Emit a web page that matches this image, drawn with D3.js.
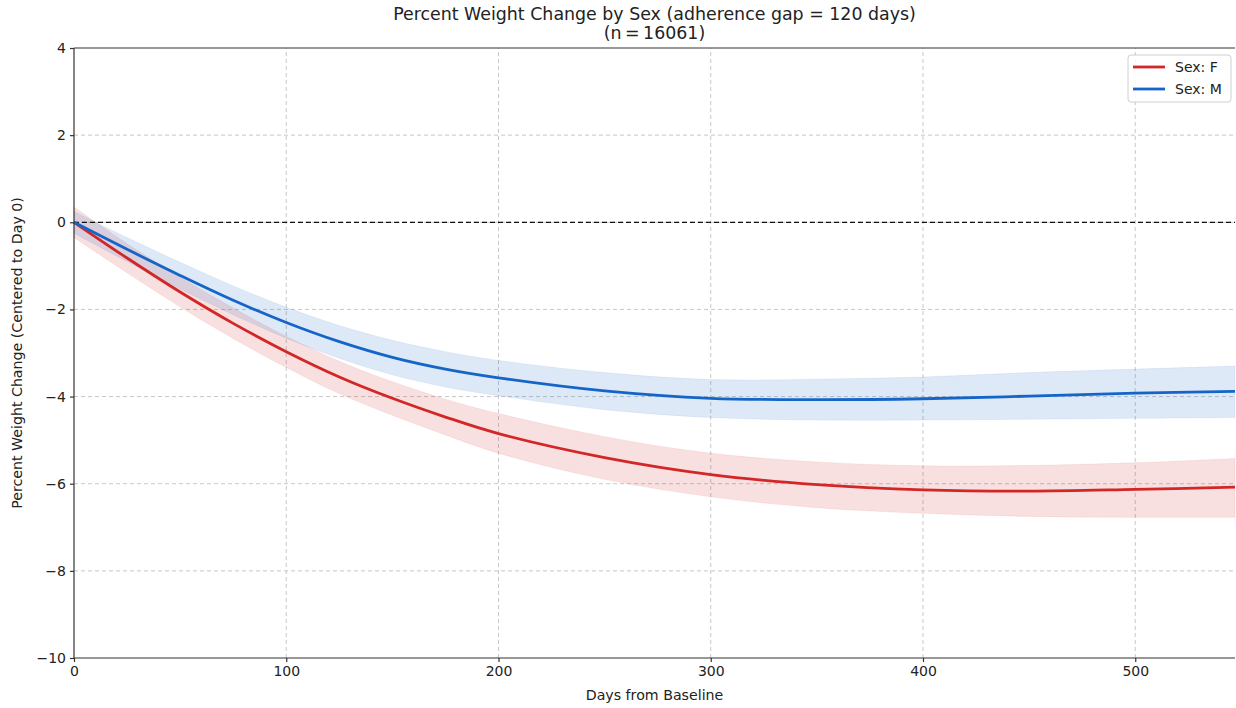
<!DOCTYPE html>
<html>
<head>
<meta charset="utf-8">
<script src="https://cdn.jsdelivr.net/npm/d3@7"></script>
<style>
  body { margin: 0; background: #fff; }
  svg { font-family: "DejaVu Sans", sans-serif; }
  .axis path, .axis line { stroke: #333; stroke-width: 1.2; }
  .grid line { stroke: #c8c8c8; stroke-dasharray: 4,3; stroke-width: 1; }
</style>
</head>
<body>
<script>
// days from baseline
var days = [0, 25, 50, 75, 100, 125, 150, 175, 200, 250, 300, 350, 400, 450, 500, 547];

// Sex: F
var fMean  = [0, -0.82, -1.60, -2.32, -2.97, -3.55, -4.04, -4.47, -4.85, -5.40, -5.79, -6.02, -6.14, -6.17, -6.13, -6.08];
var fLower = [-0.35, -1.16, -1.94, -2.67, -3.33, -3.93, -4.43, -4.88, -5.30, -5.90, -6.30, -6.55, -6.68, -6.75, -6.77, -6.77];
var fUpper = [0.35, -0.49, -1.26, -1.97, -2.62, -3.19, -3.66, -4.06, -4.39, -4.92, -5.30, -5.50, -5.59, -5.58, -5.52, -5.42];

// Sex: M
var mMean  = [0, -0.62, -1.22, -1.79, -2.30, -2.74, -3.10, -3.37, -3.57, -3.87, -4.04, -4.07, -4.05, -3.99, -3.92, -3.88];
var mLower = [-0.25, -0.90, -1.53, -2.12, -2.66, -3.12, -3.50, -3.78, -3.98, -4.30, -4.48, -4.54, -4.54, -4.52, -4.50, -4.48];
var mUpper = [0.25, -0.35, -0.92, -1.46, -1.95, -2.37, -2.71, -2.97, -3.17, -3.45, -3.61, -3.60, -3.55, -3.45, -3.37, -3.30];

var xTicks = [0, 100, 200, 300, 400, 500];
var yTicks = [-10, -8, -6, -4, -2, 0, 2, 4];

var seriesNames = ["Sex: F", "Sex: M"];
var seriesColors = ["#d32626", "#1565c8"];

//Width and height
var w = 1236;
var h = 708;
var margin = {left: 74, right: 1, top: 48, bottom: 50};

var svg = d3.select("body")
            .append("svg")
            .attr("width", w)
            .attr("height", h);

//scales
var xScale = d3.scaleLinear()
            .domain([0, 547])
            .range([margin.left, w - margin.right]);

var yScale = d3.scaleLinear()
            .domain([-10, 4])
            .range([h - margin.bottom, margin.top]);

//grid lines
svg.append("g")
    .attr("class", "grid")
    .selectAll("line")
    .data(xTicks.slice(1))
    .enter().append("line")
    .attr("x1", function(d){ return xScale(d); })
    .attr("x2", function(d){ return xScale(d); })
    .attr("y1", yScale(-10))
    .attr("y2", yScale(4));

svg.append("g")
    .attr("class", "grid")
    .selectAll("line")
    .data(yTicks.filter(function(d){ return d > -10 && d < 4; }))
    .enter().append("line")
    .attr("x1", xScale(0))
    .attr("x2", xScale(547))
    .attr("y1", function(d){ return yScale(d); })
    .attr("y2", function(d){ return yScale(d); });

//bands and lines
var series = [
  {mean: fMean, lower: fLower, upper: fUpper},
  {mean: mMean, lower: mLower, upper: mUpper}
];

var band = d3.area()
    .x(function(d){ return xScale(d[0]); })
    .y0(function(d){ return yScale(d[1]); })
    .y1(function(d){ return yScale(d[2]); })
    .curve(d3.curveCatmullRom.alpha(0.5));

var line = d3.line()
    .x(function(d){ return xScale(d[0]); })
    .y(function(d){ return yScale(d[1]); })
    .curve(d3.curveCatmullRom.alpha(0.5));

series.forEach(function(s, i){
  var pts = days.map(function(d, j){ return [d, s.lower[j], s.upper[j]]; });
  svg.append("path")
      .datum(pts)
      .attr("d", band)
      .attr("fill", seriesColors[i])
      .attr("fill-opacity", 0.14)
      .attr("stroke", seriesColors[i])
      .attr("stroke-opacity", 0.08);
});

//zero reference line
svg.append("line")
    .attr("x1", xScale(0))
    .attr("x2", xScale(547))
    .attr("y1", yScale(0))
    .attr("y2", yScale(0))
    .attr("stroke", "#111")
    .attr("stroke-width", 1.2)
    .attr("stroke-dasharray", "5,3");

series.forEach(function(s, i){
  var pts = days.map(function(d, j){ return [d, s.mean[j]]; });
  svg.append("path")
      .datum(pts)
      .attr("d", line)
      .attr("fill", "none")
      .attr("stroke", seriesColors[i])
      .attr("stroke-width", 2.8);
});

//axes
svg.append("g")
    .attr("class", "axis")
    .attr("transform", "translate(0," + yScale(-10) + ")")
    .call(d3.axisBottom(xScale).tickValues(xTicks).tickSize(4).tickPadding(4)
          .tickFormat(d3.format("d")))
    .call(function(g){ g.select(".domain").remove(); })
    .attr("font-family", "DejaVu Sans")
    .attr("font-size", 14)
    .selectAll("text").attr("fill", "#222");

svg.append("g")
    .attr("class", "axis")
    .attr("transform", "translate(" + xScale(0) + ",0)")
    .call(d3.axisLeft(yScale).tickValues(yTicks).tickSize(4).tickPadding(4)
          .tickFormat(function(d){ return d < 0 ? "\u2212" + Math.abs(d) : d; }))
    .call(function(g){ g.select(".domain").remove(); })
    .attr("font-family", "DejaVu Sans")
    .attr("font-size", 14)
    .selectAll("text").attr("fill", "#222");

//spines
[[xScale(0), yScale(-10), xScale(547), yScale(-10)],
 [xScale(0), yScale(4), xScale(547), yScale(4)],
 [xScale(0), yScale(-10), xScale(0), yScale(4)]].forEach(function(p){
  svg.append("line")
      .attr("x1", p[0]).attr("y1", p[1])
      .attr("x2", p[2]).attr("y2", p[3])
      .attr("stroke", "#333")
      .attr("stroke-width", 1.2);
});

//title
var cx = (xScale(0) + xScale(547)) / 2;
svg.append("text")
    .attr("x", cx).attr("y", 20)
    .attr("text-anchor", "middle")
    .attr("font-size", 17.4)
    .attr("fill", "#222")
    .text("Percent Weight Change by Sex (adherence gap = 120 days)");
svg.append("text")
    .attr("x", cx).attr("y", 39)
    .attr("text-anchor", "middle")
    .attr("font-size", 17.4)
    .attr("fill", "#222")
    .text("(n\u2009=\u200916061)");

//axis labels
svg.append("text")
    .attr("x", cx).attr("y", 700)
    .attr("text-anchor", "middle")
    .attr("font-size", 14.2)
    .attr("fill", "#222")
    .text("Days from Baseline");

svg.append("text")
    .attr("transform", "translate(22," + yScale(-3) + ") rotate(-90)")
    .attr("text-anchor", "middle")
    .attr("font-size", 14.2)
    .attr("fill", "#222")
    .text("Percent Weight Change (Centered to Day 0)");

//legend
var legend = svg.append("g").attr("transform", "translate(1128,55)");
legend.append("rect")
    .attr("width", 103).attr("height", 47)
    .attr("rx", 3)
    .attr("fill", "#fff").attr("fill-opacity", 0.85)
    .attr("stroke", "#d0d0d0");
seriesNames.forEach(function(name, i){
  legend.append("line")
      .attr("x1", 5).attr("x2", 37)
      .attr("y1", 12 + i * 22).attr("y2", 12 + i * 22)
      .attr("stroke", seriesColors[i])
      .attr("stroke-width", 2.8);
  legend.append("text")
      .attr("x", 47).attr("y", 17 + i * 22)
      .attr("font-size", 14)
      .attr("fill", "#222")
      .text(name);
});
</script>
</body>
</html>
